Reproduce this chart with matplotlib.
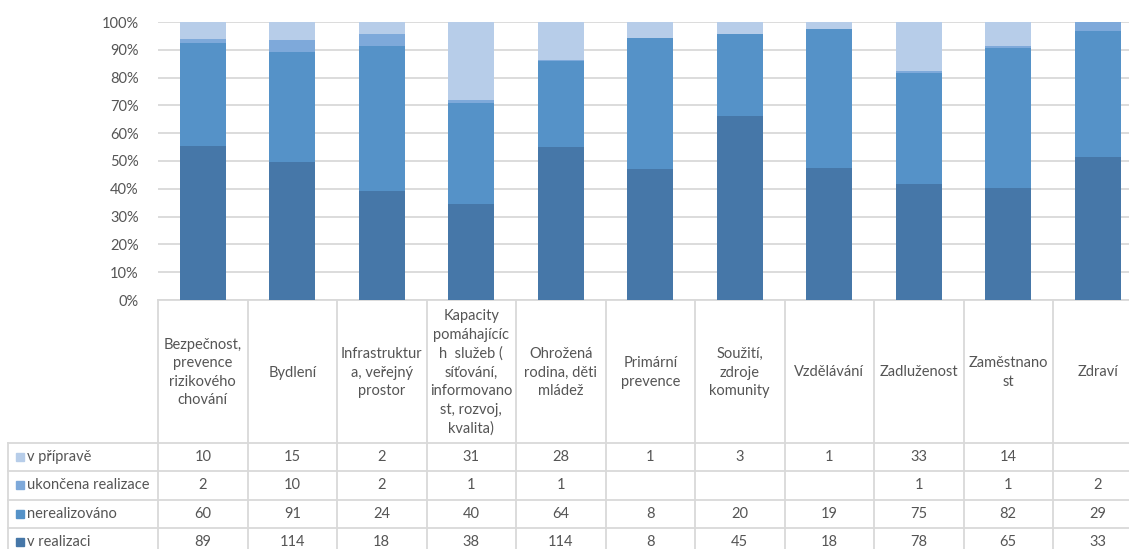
import numpy as np
import matplotlib
matplotlib.use("Agg")
import matplotlib.pyplot as plt

plt.rcParams['font.family'] = ['Lato', 'DejaVu Sans']

categories = [
    "Bezpečnost,\nprevence\nrizikového\nchování",
    "Bydlení",
    "Infrastruktur\na, veřejný\nprostor",
    "Kapacity\npomáhajícíc\nh  služeb (\nsíťování,\ninformovano\nst, rozvoj,\nkvalita)",
    "Ohrožená\nrodina, děti\nmládež",
    "Primární\nprevence",
    "Soužití,\nzdroje\nkomunity",
    "Vzdělávání",
    "Zadluženost",
    "Zaměstnano\nst",
    "Zdraví",
]
series_names = ["v přípravě", "ukončena realizace", "nerealizováno", "v realizaci"]
v_priprave = [10, 15, 2, 31, 28, 1, 3, 1, 33, 14, None]
ukoncena = [2, 10, 2, 1, 1, None, None, None, 1, 1, 2]
nerealizovano = [60, 91, 24, 40, 64, 8, 20, 19, 75, 82, 29]
v_realizaci = [89, 114, 18, 38, 114, 8, 45, 18, 78, 65, 33]
colors = {"v přípravě": "#B7CDE9", "ukončena realizace": "#7EA9DA",
          "nerealizováno": "#5592C8", "v realizaci": "#4677A8"}
yticklabels = ["0%", "10%", "20%", "30%", "40%", "50%", "60%", "70%", "80%", "90%", "100%"]

table_rows = [v_priprave, ukoncena, nerealizovano, v_realizaci]

def arr(v):
    return np.array([np.nan if x is None else x for x in v], dtype=float)

data = {n: arr(v) for n, v in zip(series_names, table_rows)}
totals = sum(np.nan_to_num(data[n]) for n in series_names)

W, H = 1129, 549
fig = plt.figure(figsize=(W / 100, H / 100), dpi=100)
grey = "#D9D9D9"
txt = "#555555"
fs = 10.5

colw = 89.5
ax_left, ax_right = 158, 158 + 11 * colw
ax = fig.add_axes([ax_left / W, (H - 300) / H, (ax_right - ax_left) / W, 278 / H])
x = np.arange(len(categories))
bottom = np.zeros(len(categories))
for n in ["v realizaci", "nerealizováno", "ukončena realizace", "v přípravě"]:
    pct = np.nan_to_num(data[n]) / totals * 100
    ax.bar(x, pct, 0.515, bottom=bottom, color=colors[n], zorder=3)
    bottom += pct
ax.set_xlim(-0.5, len(categories) - 0.5)
ax.set_ylim(0, 100)
ax.set_yticks(np.arange(0, 101, 10))
ax.set_yticklabels(yticklabels, fontsize=fs, color=txt)
ax.tick_params(axis='y', length=0, pad=14)
ax.set_xticks([])
ax.grid(axis='y', color=grey, linewidth=1.3, zorder=0)
for s in ['top', 'right', 'left']:
    ax.spines[s].set_visible(False)
ax.spines['bottom'].set_color(grey)
ax.spines['bottom'].set_linewidth(1.3)

# table axes below
tb_bottom = 556
tax = fig.add_axes([ax_left / W, (H - tb_bottom) / H, (ax_right - ax_left) / W, (tb_bottom - 300) / H])
tax.set_xlim(-0.5, len(categories) - 0.5)
tax.set_ylim(tb_bottom - 300, 0)
tax.axis('off')

hdr = 143
rowh = 28.3
row_lines = [hdr + i * rowh for i in range(5)]
left_x = -0.5 - (158 - 8) / colw
lw = 1.3
for i in range(len(categories) + 1):
    tax.plot([i - 0.5, i - 0.5], [0, row_lines[-1]], color=grey, lw=lw, clip_on=False)
tax.plot([left_x, left_x], [hdr, row_lines[-1]], color=grey, lw=lw, clip_on=False)
for yl in row_lines:
    tax.plot([left_x, len(categories) - 0.5], [yl, yl], color=grey, lw=lw, clip_on=False)

for i, c in enumerate(categories):
    tax.text(i, hdr / 2 + 1, c, ha='center', va='center', fontsize=fs, color=txt,
             linespacing=1.42, clip_on=False)

key_w = 8 / colw
for r, (n, vals) in enumerate(zip(series_names, table_rows)):
    yc = hdr + (r + 0.5) * rowh
    kx = left_x + 8 / colw
    tax.add_patch(plt.Rectangle((kx, yc - 4), key_w, 8, color=colors[n], clip_on=False))
    tax.text(kx + key_w + 3 / colw, yc, n, ha='left', va='center', fontsize=fs, color=txt, clip_on=False)
    for i, v in enumerate(vals):
        if v is not None:
            tax.text(i, yc, str(v), ha='center', va='center', fontsize=fs, color=txt, clip_on=False)

fig.savefig("out.png", dpi=100)
